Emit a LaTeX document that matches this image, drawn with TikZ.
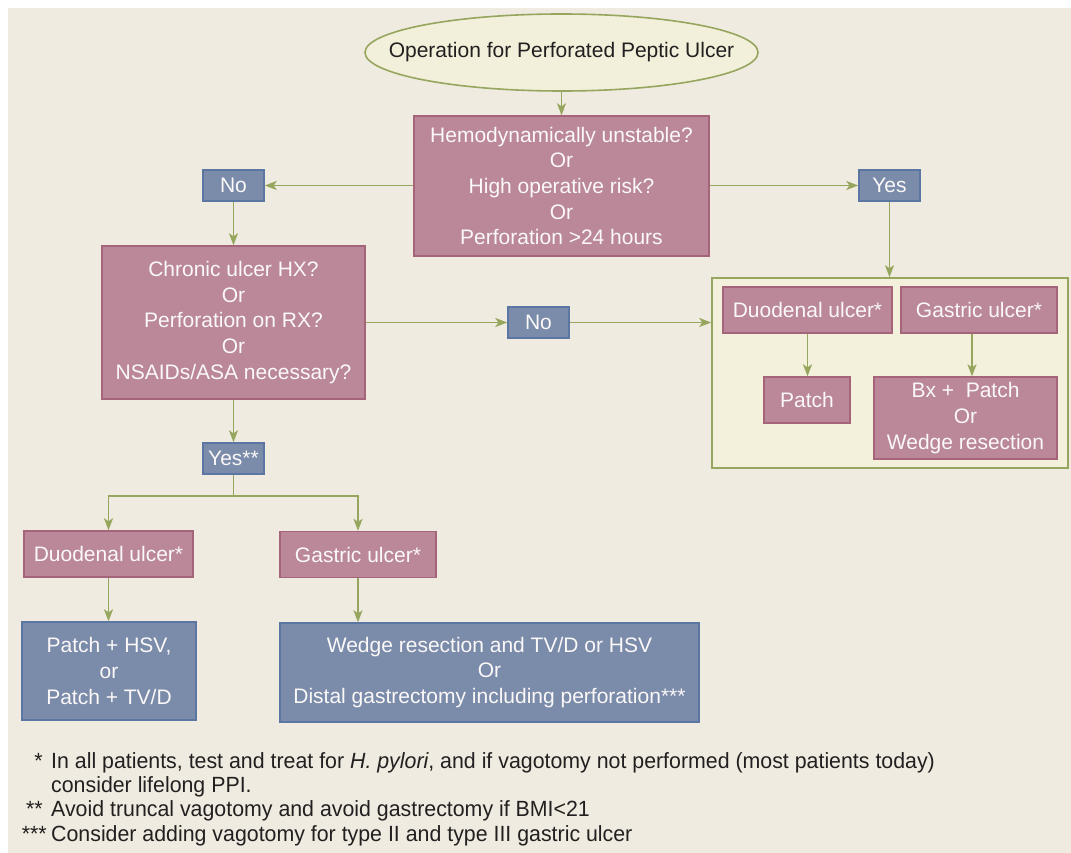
\documentclass[tikz,border=0pt]{standalone}
\usepackage{fontspec}
\setmainfont{Liberation Sans}
\newfontfamily\condfont[FakeStretch=0.97]{Liberation Sans}
\usetikzlibrary{arrows.meta,shapes.geometric,calc}
\definecolor{bgc}{HTML}{EFEBE0}
\definecolor{pinkf}{HTML}{BA8898}
\definecolor{pinkd}{HTML}{A5647A}
\definecolor{bluef}{HTML}{7B8BAA}
\definecolor{blued}{HTML}{5B76A3}
\definecolor{lineg}{HTML}{97A65E}
\definecolor{ellf}{HTML}{F2F0DA}
\definecolor{framef}{HTML}{F3F1DC}
\definecolor{darktext}{HTML}{231F20}
\definecolor{lighttext}{HTML}{FBF8F8}
\tikzset{
  boxbase/.style={line width=1.4pt, text=lighttext, inner sep=0pt, align=center,
    font=\fontsize{21}{25.6}\selectfont},
  pinkbox/.style={boxbase, draw=pinkd, fill=pinkf},
  bluebox/.style={boxbase, draw=blued, fill=bluef},
  arr/.style={draw=lineg, line width=1.6pt, -{Stealth[length=12pt,width=9pt,inset=3pt]}},
  fn/.style={inner sep=0pt, text=darktext, font=\condfont\fontsize{22}{24}\selectfont},
}
\begin{document}
\begin{tikzpicture}[x=1pt,y=-1pt]
\useasboundingbox (0,0) rectangle (1071,853);
\fill[white] (0,0) rectangle (1071,853);
\fill[bgc] (8,8) rectangle (1071,853);

% top ellipse
\node[ellipse, draw=lineg, fill=ellf, line width=1.6pt, minimum width=393pt, minimum height=77pt,
  inner sep=0pt, text=darktext, font=\fontsize{21}{25.6}\selectfont] (op) at (561.5,52.5)
  {\makebox[0pt]{Operation for Perforated Peptic Ulcer}};

\node[pinkbox, minimum width=295pt, minimum height=140pt] (q1) at (561.5,186)
  {Hemodynamically unstable?\\Or\\High operative risk?\\Or\\Perforation >24 hours};

\node[bluebox, minimum width=61pt, minimum height=31pt] (no1) at (233.5,185.5) {No};
\node[bluebox, minimum width=61pt, minimum height=31pt] (yes1) at (889.5,185.5) {Yes};

\node[pinkbox, minimum width=263pt, minimum height=153pt] (q2) at (233.5,322.5)
  {Chronic ulcer HX?\\Or\\Perforation on RX?\\Or\\NSAIDs/ASA necessary?};

\node[bluebox, minimum width=61pt, minimum height=31pt] (no2) at (538.5,322.5) {No};

% right frame
\node[draw=lineg, fill=framef, line width=1.6pt, minimum width=356pt, minimum height=190pt,
  inner sep=0pt] (frame) at (890,373) {};
\node[pinkbox, minimum width=169pt, minimum height=46pt] (du1) at (807.5,310) {Duodenal ulcer*};
\node[pinkbox, minimum width=156pt, minimum height=46pt] (ga1) at (979,310) {Gastric ulcer*};
\node[pinkbox, minimum width=86pt, minimum height=46pt] (patch) at (807,400) {Patch};
\node[pinkbox, minimum width=183pt, minimum height=82pt] (bx) at (965.5,418)
  {Bx +\ \ Patch\\Or\\Wedge resection};

\node[bluebox, minimum width=61pt, minimum height=31pt] (yes2) at (233.5,458.5) {Yes**};

\node[pinkbox, minimum width=169pt, minimum height=46pt] (du2) at (108.5,554) {Duodenal ulcer*};
\node[pinkbox, minimum width=156pt, minimum height=46pt] (ga2) at (358,554.5) {Gastric ulcer*};

\node[bluebox, minimum width=174pt, minimum height=98pt] (phsv) at (109,671)
  {Patch + HSV,\\or\\Patch + TV/D};
\node[bluebox, minimum width=419pt, minimum height=99pt] (wedge) at (489.5,672.5)
  {Wedge resection and TV/D or HSV\\Or\\Distal gastrectomy including perforation***};

% connectors
\draw[arr] (op.south) -- (q1.north);
\draw[arr] (q1.west |- no1.east) -- (no1.east);
\draw[arr] (q1.east |- yes1.west) -- (yes1.west);
\draw[arr] (no1.south) -- (q2.north);
\draw[arr] (yes1.south) -- (yes1.south |- frame.north);
\draw[arr] (q2.east |- no2.west) -- (no2.west);
\draw[arr] (no2.east) -- (no2.east -| frame.west);
\draw[arr] (du1.south) -- (du1.south |- patch.north);
\draw[arr] ([xshift=-7pt]ga1.south) -- ([xshift=-7pt]ga1.south |- bx.north);
\draw[arr] (q2.south) -- (yes2.north);
\coordinate (j) at ($(yes2.south)+(0,21)$);
\draw[arr] (yes2.south) -- (j) -| (du2.north);
\draw[arr] (j) -| (ga2.north);
\draw[arr] (du2.south) -- (du2.south |- phsv.north);
\draw[arr] (ga2.south) -- (ga2.south |- wedge.north);

% footnotes
\node[fn, anchor=base east] (s1) at (43,768) {*};
\node[fn, anchor=base west] (f1) at (51,768)
  {In all patients, test and treat for \textit{H. pylori}, and if vagotomy not performed (most patients today)};
\node[fn, anchor=base west] (f1b) at (51,792) {consider lifelong PPI.};
\node[fn, anchor=base east] (s2) at (43,816) {**};
\node[fn, anchor=base west] (f2) at (51,816) {Avoid truncal vagotomy and avoid gastrectomy if BMI<21};
\node[fn, anchor=base east] (s3) at (47,841) {***};
\node[fn, anchor=base west] (f3) at (51,841) {Consider adding vagotomy for type II and type III gastric ulcer};
\end{tikzpicture}
\end{document}
